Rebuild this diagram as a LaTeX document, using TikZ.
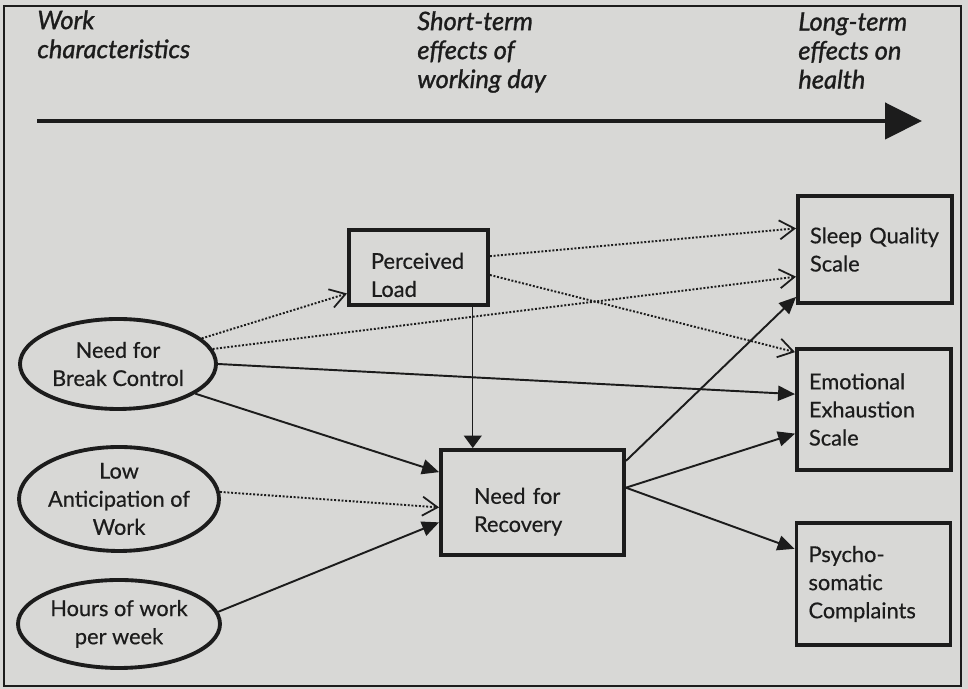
\documentclass[tikz,border=0pt]{standalone}
\usepackage{fontspec}
\setmainfont{Lato}[UprightFeatures={FakeBold=0.5}, ItalicFeatures={FakeBold=1.2}]
\usepackage{tikz}
\usetikzlibrary{positioning,arrows.meta,shapes.geometric,calc}
\definecolor{paper}{RGB}{216,216,214}
\definecolor{ink}{RGB}{28,28,28}
\tikzset{%
  txt/.style={font=\fontsize{12.4pt}{16pt}\selectfont, text=ink},
  heading/.style={anchor=north west, align=left, text=ink, inner sep=0pt,
    font=\fontsize{14.5pt}{16.5pt}\selectfont\itshape},% column titles
  factor/.style={txt, draw=ink, shape=ellipse, line width=2.2pt, inner sep=-1pt,
    align=center},% work characteristics
  strain/.style={txt, draw=ink, rectangle, line width=2.2pt, inner sep=0pt,
    align=left, text height=20.5pt, text depth=19pt},% short-term effects
  outcome/.style={txt, draw=ink, rectangle, line width=2.2pt, inner sep=0pt,
    align=left, minimum width=3.08cm, text width=2.6cm},% long-term effects
  link/.style={draw=ink, line width=1.1pt, -{Triangle[length=0.34cm,width=0.3cm]}},
  dotlink/.style={draw=ink, line width=1.1pt, densely dotted,
    -{Straight Barb[length=0.3cm,width=0.38cm,line width=1pt]}},
  thinlink/.style={draw=ink, line width=0.7pt, -{Triangle[length=0.25cm,width=0.36cm]}},
  timeline/.style={draw=ink, line width=2.6pt, -{Triangle[length=0.74cm,width=0.72cm]}}
}

\begin{document}
\begin{tikzpicture}
\fill[paper] (0,0) rectangle (19.36,13.78);
\draw[ink, line width=0.8pt] (0.08,0.06) rectangle (19.22,13.66);

% time axis
\node[heading] (work) at (0.74,13.58) {Work\\characteristics};
\node[heading] (short) at (8.34,13.56) {Short-term\\effects of\\working day};
\node[heading] (long) at (15.96,13.54) {Long-term\\effects on\\health};
\coordinate (tstart) at (0.74,11.36);
\coordinate (tend) at (18.44,11.36);
\draw[timeline] (tstart) -- (tend);

\node[factor, minimum width=3.92cm, minimum height=1.8cm] (brk) at (2.36,6.5) {Need for\\Break Control};
\node[factor, minimum width=4.0cm, minimum height=2.08cm] (ant) at (2.38,3.8) {Low\\Anticipation of\\Work};
\node[factor, minimum width=4.04cm, minimum height=1.76cm] (hrs) at (2.38,1.3) {Hours of work\\per week};

\node[strain, minimum width=2.78cm, minimum height=1.5cm, text width=1.9cm] (load) at (8.37,8.43) {Perceived\\Load};
\node[strain, minimum width=3.66cm, minimum height=2.1cm, text width=2.34cm] (rec) at (10.65,3.73) {Need for\\Recovery};

\node[outcome, minimum height=2.14cm] (sleep) at (17.5,8.79) {Sleep Quality\\Scale};
\node[outcome, minimum height=2.42cm] (emo) at (17.48,5.59) {Emotional\\Exhaustion\\Scale};
\node[outcome, minimum height=2.44cm] (psy) at (17.47,2.1) {Psycho-\\somatic\\Complaints};

\draw[dotlink] (brk.17) -- (load.200);
\draw[dotlink] (brk.9) -- (sleep.199);
\draw[link] (brk.east) -- (emo.169);
\draw[link] (brk.-21) -- (rec.162);
\draw[dotlink] (ant.4) -- (rec.183);
\draw[link] (hrs.7) -- (rec.192);
\draw[thinlink] (load.324) -- (load.324 |- rec.north);
\draw[dotlink] (load.9) -- (sleep.165);
\draw[dotlink] (load.354) -- (emo.144);
\draw[link] (rec.24) -- (sleep.211);
\draw[link] (rec.9) -- (emo.197);
\draw[link] (rec.9) -- (psy.156);
\end{tikzpicture}
\end{document}
